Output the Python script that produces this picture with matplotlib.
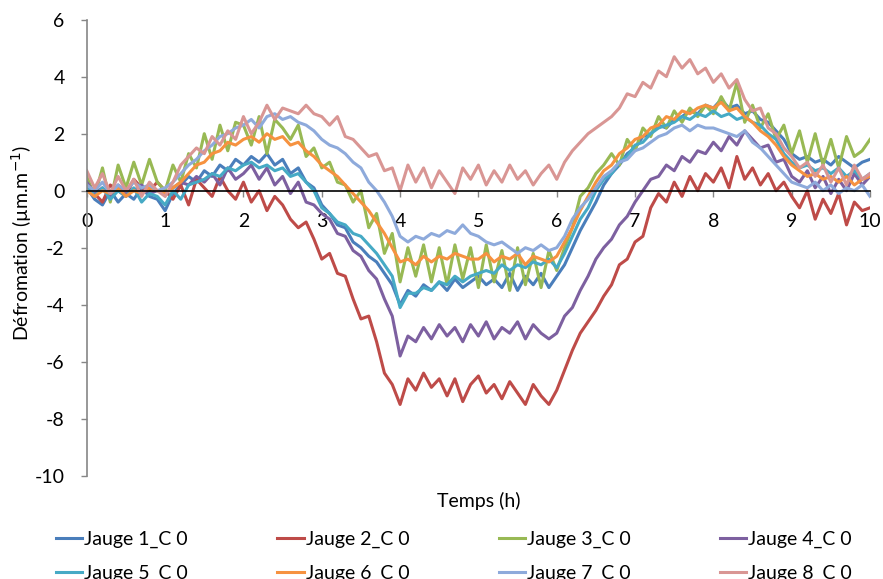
import numpy as np
import matplotlib
matplotlib.use("Agg")
import matplotlib.pyplot as plt

plt.rcParams['font.family'] = ['Lato', 'DejaVu Sans']
plt.rcParams['axes.unicode_minus'] = False

# time axis (h), one reading every 0.1 h
temps = np.round(np.arange(0, 10.01, 0.1), 1)

jauge1 = [0.1, -0.3, -0.5, 0.0, -0.4, -0.1, -0.3, 0.1, -0.2, -0.3,
          -0.7, -0.1, 0.2, 0.5, 0.3, 0.7, 0.5, 0.9, 0.7, 1.1,
          0.9, 1.2, 1.0, 1.3, 0.9, 1.1, 0.6, 0.8, 0.3, 0.1,
          -0.5, -0.8, -1.2, -1.3, -1.8, -2.0, -2.3, -2.5, -2.9, -3.3,
          -4.0, -3.5, -3.7, -3.3, -3.5, -3.2, -3.5, -3.1, -3.4, -3.2,
          -3.0, -3.3, -3.1, -3.4, -2.9, -3.5, -3.0, -3.3, -2.9, -3.4,
          -3.0, -2.6, -2.0, -1.4, -0.9, -0.4, 0.2, 0.6, 0.9, 1.3,
          1.5, 1.9, 2.0, 2.3, 2.2, 2.5, 2.6, 2.8, 2.7, 3.0,
          2.9, 3.2, 2.9, 3.0, 2.7, 2.8, 2.5, 2.4, 2.1, 1.8,
          1.3, 1.1, 1.2, 1.0, 1.1, 0.9, 1.2, 1.0, 0.8, 1.0, 1.1]

jauge2 = [0.3, -0.1, -0.4, 0.2, 0.0, -0.2, 0.4, 0.1, 0.0, 0.3,
          0.0, -0.3, 0.2, -0.5, 0.4, 0.1, -0.2, 0.5, 0.0, -0.3,
          0.3, -0.4, 0.0, -0.7, -0.2, -0.5, -1.0, -1.3, -1.1, -1.7,
          -2.4, -2.2, -2.9, -3.0, -3.8, -4.5, -4.4, -5.3, -6.4, -6.8,
          -7.5, -6.6, -7.0, -6.4, -6.9, -6.6, -7.2, -6.6, -7.4, -6.8,
          -6.5, -7.1, -6.8, -7.3, -6.7, -7.1, -7.5, -6.8, -7.2, -7.5,
          -7.0, -6.3, -5.6, -5.0, -4.6, -4.2, -3.7, -3.3, -2.6, -2.4,
          -1.8, -1.6, -0.6, -0.1, -0.4, 0.3, -0.2, 0.5, 0.0, 0.6,
          0.3, 0.8, 0.1, 1.2, 0.4, 0.8, 0.2, 0.6, 0.0, 0.3,
          -0.2, -0.6, 0.0, -1.0, -0.3, -0.8, -0.1, -1.2, -0.4, -0.7, -0.6]

jauge3 = [0.5, -0.2, 0.8, -0.4, 0.9, 0.1, 1.0, 0.2, 1.1, 0.3,
          0.0, 0.9, 0.3, 1.3, 0.8, 2.0, 1.1, 2.3, 1.4, 2.4,
          2.3, 1.6, 2.6, 1.3, 2.5, 2.2, 1.8, 2.3, 1.2, 1.5,
          0.8, 1.0, 0.3, 0.2, -0.4, 0.0, -1.3, -0.8, -2.2, -1.5,
          -3.2, -2.0, -3.0, -1.9, -3.2, -2.0, -3.3, -1.9, -3.1, -2.0,
          -3.4, -1.9, -3.2, -2.1, -3.5, -2.0, -3.3, -2.2, -3.4, -2.1,
          -2.8, -2.0, -1.3, -0.2, 0.1, 0.6, 0.9, 1.3, 0.9, 1.8,
          1.4, 2.2, 1.9, 2.6, 2.2, 2.8, 2.4, 2.9, 2.6, 3.0,
          2.7, 3.3, 2.8, 3.8, 2.4, 3.0, 2.2, 2.7, 1.8, 2.3,
          1.3, 2.1, 1.0, 2.0, 0.9, 1.8, 0.8, 1.9, 1.2, 1.4, 1.8]

jauge4 = [0.3, -0.1, 0.1, -0.2, 0.2, -0.1, 0.0, 0.2, -0.1, 0.0,
          -0.1, 0.1, 0.3, 0.2, 0.5, 0.3, 0.6, 0.2, 0.8, 0.4,
          0.6, 0.9, 0.4, 0.8, 0.2, 0.5, -0.1, 0.3, -0.4, -0.5,
          -0.8, -1.0, -1.5, -1.6, -2.1, -2.3, -2.8, -3.1, -3.8, -4.4,
          -5.8, -5.1, -5.3, -4.8, -5.2, -4.7, -5.1, -4.8, -5.3, -4.7,
          -5.1, -4.6, -5.2, -4.8, -5.0, -4.6, -5.2, -4.7, -5.0, -5.2,
          -5.0, -4.4, -4.1, -3.5, -3.0, -2.4, -2.0, -1.7, -1.2, -0.9,
          -0.4, 0.0, 0.4, 0.5, 0.9, 0.7, 1.2, 1.0, 1.4, 1.3,
          1.7, 1.4, 1.9, 1.6, 2.1, 1.8, 1.5, 1.6, 1.0, 1.1,
          0.5, 0.3, 0.7, 0.1, 0.5, -0.1, 0.4, 0.0, 0.6, 0.2, 0.5]

jauge5 = [0.2, -0.2, 0.1, -0.3, 0.0, -0.2, 0.1, -0.4, -0.1, -0.2,
          -0.5, 0.0, -0.3, 0.2, 0.3, 0.4, 0.6, 0.5, 0.8, 0.7,
          0.9, 1.0, 0.8, 0.9, 0.7, 0.8, 0.5, 0.6, 0.3, 0.0,
          -0.6, -0.8, -1.1, -1.2, -1.5, -1.6, -1.9, -2.2, -2.6, -3.0,
          -4.1, -3.6, -3.6, -3.4, -3.5, -3.2, -3.3, -3.0, -3.2, -3.0,
          -2.9, -2.8, -2.9, -2.6, -2.8, -2.6, -2.7, -2.5, -2.6, -2.4,
          -2.7, -2.2, -1.6, -1.0, -0.6, 0.0, 0.4, 0.6, 1.0, 1.2,
          1.6, 1.7, 2.0, 2.2, 2.3, 2.4, 2.6, 2.5, 2.7, 2.6,
          2.8, 2.6, 2.7, 2.5, 2.6, 2.4, 2.3, 2.0, 1.8, 1.3,
          1.0, 0.8, 0.9, 0.7, 0.8, 0.6, 0.8, 0.5, 0.7, 0.4, 0.6]

jauge6 = [0.0, -0.2, 0.0, -0.1, 0.1, -0.2, 0.0, -0.1, 0.1, 0.0,
          -0.1, 0.1, 0.3, 0.6, 0.9, 1.0, 1.3, 1.4, 1.7, 1.6,
          1.8, 1.9, 1.7, 2.0, 1.8, 1.9, 1.6, 1.7, 1.4, 1.2,
          0.9, 0.7, 0.5, 0.2, -0.1, -0.4, -0.7, -1.1, -1.5, -2.0,
          -2.5, -2.4, -2.6, -2.3, -2.5, -2.3, -2.4, -2.2, -2.3, -2.4,
          -2.4, -2.2, -2.5, -2.3, -2.4, -2.2, -2.6, -2.3, -2.4, -2.5,
          -2.3, -1.8, -1.3, -0.7, -0.2, 0.3, 0.7, 0.9, 1.3, 1.5,
          1.8, 1.9, 2.2, 2.3, 2.6, 2.5, 2.8, 2.7, 2.9, 3.0,
          2.9, 3.1, 2.8, 2.9, 2.6, 2.4, 2.1, 1.9, 1.6, 1.2,
          0.9, 0.7, 0.5, 0.6, 0.4, 0.5, 0.3, 0.5, 0.2, 0.4, 0.5]

jauge7 = [0.2, 0.0, 0.3, -0.1, 0.2, 0.0, 0.3, 0.1, 0.2, 0.0,
          0.1, 0.3, 0.6, 0.9, 1.1, 1.4, 1.6, 1.9, 2.0, 2.2,
          2.3, 2.5, 2.2, 2.6, 2.7, 2.5, 2.6, 2.4, 2.3, 2.1,
          1.8, 1.6, 1.5, 1.3, 1.0, 0.8, 0.3, 0.0, -0.4, -0.9,
          -1.6, -1.8, -1.6, -1.7, -1.5, -1.6, -1.4, -1.5, -1.2, -1.5,
          -1.6, -1.8, -1.9, -1.8, -2.0, -2.2, -2.0, -2.1, -1.9, -2.1,
          -2.0, -1.6, -1.0, -0.6, -0.3, 0.1, 0.5, 0.7, 1.0, 1.1,
          1.4, 1.5, 1.7, 1.9, 2.0, 2.2, 2.3, 2.1, 2.3, 2.2,
          2.2, 2.1, 2.0, 1.9, 2.1, 1.7, 1.5, 1.2, 0.9, 0.6,
          0.3, 0.2, 0.1, 0.3, 0.0, 0.2, -0.1, 0.1, 0.0, 0.2, -0.2]

jauge8 = [0.7, 0.1, 0.6, -0.1, 0.5, 0.0, 0.4, -0.2, 0.3, 0.0,
          -0.2, 0.3, 0.9, 1.2, 1.5, 1.3, 1.9, 1.6, 2.1, 1.8,
          2.6, 2.0, 2.4, 3.0, 2.5, 2.9, 2.8, 2.7, 3.0, 2.7,
          2.6, 2.3, 2.6, 1.9, 1.8, 1.5, 1.2, 1.3, 0.7, 0.8,
          0.0, 0.9, 0.3, 0.8, 0.1, 0.7, 0.3, -0.1, 0.8, 0.4,
          0.9, 0.2, 0.7, 0.3, 0.9, 0.4, 0.7, 0.2, 0.6, 0.9,
          0.4, 1.0, 1.4, 1.7, 2.0, 2.2, 2.4, 2.6, 2.9, 3.4,
          3.3, 3.8, 3.6, 4.2, 4.0, 4.7, 4.3, 4.6, 4.1, 4.3,
          3.8, 4.1, 3.6, 3.9, 3.2, 2.8, 2.9, 2.2, 2.0, 1.5,
          1.2, 0.8, 1.0, 0.5, 0.9, 0.3, 0.8, 0.2, 0.9, 0.4, 0.6]

series = [jauge1, jauge2, jauge3, jauge4, jauge5, jauge6, jauge7, jauge8]
labels = ['Jauge 1_C 0', 'Jauge 2_C 0', 'Jauge 3_C 0', 'Jauge 4_C 0',
          'Jauge 5_C 0', 'Jauge 6_C 0', 'Jauge 7_C 0', 'Jauge 8_C 0']
colors = ['#4A7EBB', '#BE4B48', '#98B954', '#7D60A0',
          '#46AAC5', '#F69240', '#8EAADB', '#D99694']

fig = plt.figure(figsize=(8.83, 5.79), dpi=100)
ax = fig.add_axes([0.0983, 0.1784, 0.887, 0.7876])

lines = []
for y, lab, c in zip(series, labels, colors):
    l, = ax.plot(temps, y, color=c, lw=2.2, label=lab)
    lines.append(l)

ax.set_xlim(0, 10)
ax.set_ylim(-10, 6)
ax.set_xticks(range(0, 11))
ax.set_yticks(range(-10, 7, 2))

# axe des x qui croise en 0
ax.spines['bottom'].set_position(('data', 0))
ax.spines['bottom'].set_color('black')
ax.spines['bottom'].set_linewidth(1.2)
ax.spines['left'].set_color('#868686')
ax.spines['left'].set_linewidth(1.2)
ax.spines['top'].set_visible(False)
ax.spines['right'].set_visible(False)
ax.tick_params(axis='x', direction='out', length=4, width=1, color='#868686',
               labelsize=14, pad=12)
ax.tick_params(axis='y', direction='out', length=4, width=1, color='#868686',
               labelsize=14, pad=12)

ax.set_xlabel('Temps (h)', fontsize=14)
ax.xaxis.set_label_coords(0.5, -0.036)
ax.set_ylabel('Défromation (µm.m$^{-1}$)', fontsize=14)
ax.yaxis.set_label_coords(-0.068, 0.51)

# legend filled row by row like Excel
order = [0, 4, 1, 5, 2, 6, 3, 7]
fig.legend([lines[i] for i in order], [labels[i] for i in order],
           loc='upper left', bbox_to_anchor=(0.0634, 0.0834), ncol=4,
           frameon=False, fontsize=14, handlelength=1.35, handletextpad=0.1,
           columnspacing=4.6, labelspacing=0.85, borderpad=0, borderaxespad=0)

fig.savefig('out.png', dpi=100)
